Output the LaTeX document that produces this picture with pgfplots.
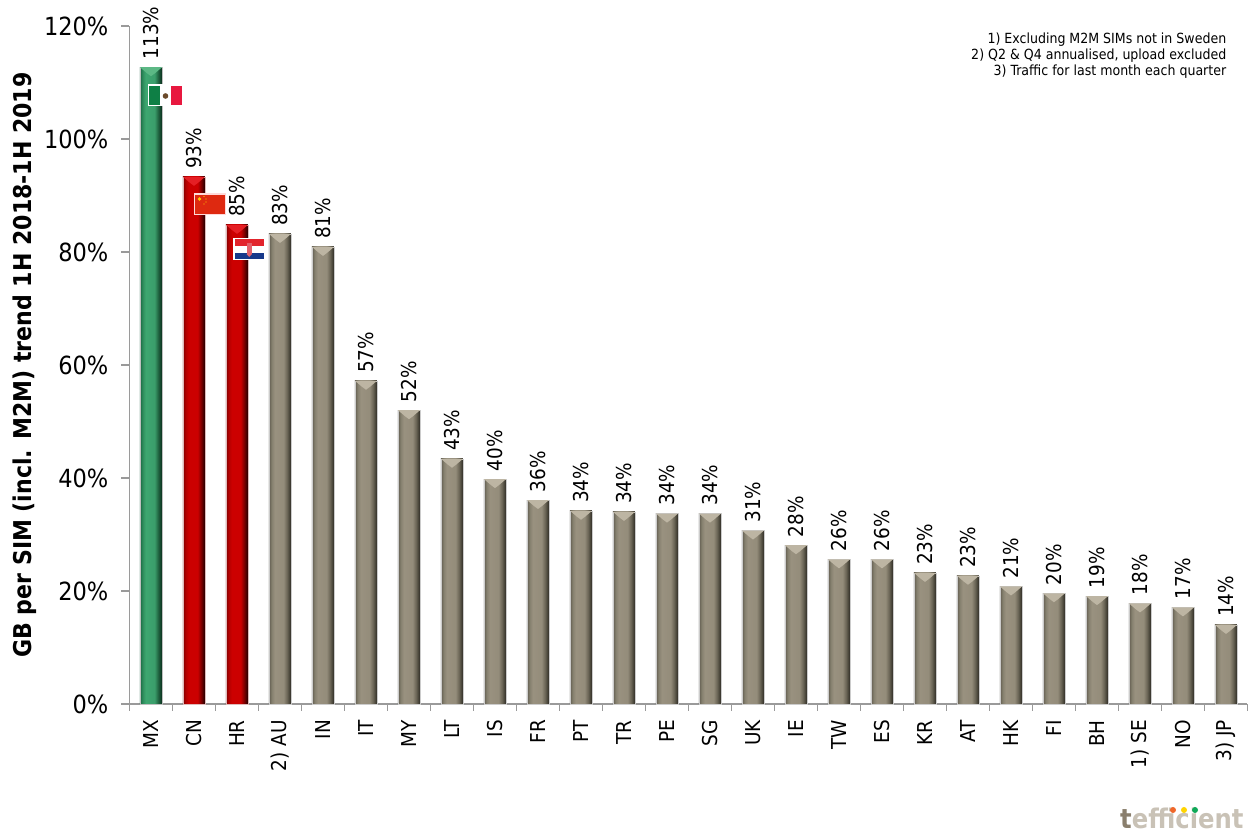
\documentclass[border=0pt]{standalone}
\usepackage{pgfplots}
\pgfplotsset{compat=1.18}
\usepackage{fontspec}
\setmainfont{DejaVu Sans Condensed}
\definecolor{axisgray}{HTML}{9A9A9A}
\definecolor{flagred}{HTML}{DE2910}
\definecolor{mxgreen}{HTML}{0E7F45}
\definecolor{mxred}{HTML}{E8183F}
\definecolor{mxbrown}{HTML}{6B4A2A}
\definecolor{cnyellow}{HTML}{FFC800}
\definecolor{hrred}{HTML}{E2242C}
\definecolor{hrblue}{HTML}{17398A}
\definecolor{hrshield}{HTML}{E2606A}
\definecolor{logolight}{HTML}{C9C2B6}
\definecolor{logodark}{HTML}{8A7F6D}
\definecolor{dotorange}{HTML}{F0672A}
\definecolor{dotyellow}{HTML}{FFD400}
\definecolor{dotgreen}{HTML}{0FA958}
% Bar bodies: dark rims, lighter middle, darkest on the right
\pgfdeclarehorizontalshading{bargray}{100bp}{rgb(0bp)=(0.38,0.36,0.31);rgb(25bp)=(0.38,0.36,0.31);rgb(31bp)=(0.52,0.50,0.43);rgb(38bp)=(0.60,0.57,0.50);rgb(58bp)=(0.58,0.55,0.48);rgb(66bp)=(0.42,0.40,0.34);rgb(75bp)=(0.18,0.17,0.14);rgb(100bp)=(0.18,0.17,0.14)}
\pgfdeclarehorizontalshading{barred}{100bp}{rgb(0bp)=(0.50,0,0);rgb(25bp)=(0.50,0,0);rgb(31bp)=(0.70,0,0);rgb(38bp)=(0.80,0,0);rgb(58bp)=(0.80,0,0);rgb(66bp)=(0.50,0,0);rgb(75bp)=(0.12,0,0);rgb(100bp)=(0.12,0,0)}
\pgfdeclarehorizontalshading{bargreen}{100bp}{rgb(0bp)=(0.10,0.40,0.26);rgb(25bp)=(0.10,0.40,0.26);rgb(31bp)=(0.18,0.55,0.36);rgb(38bp)=(0.24,0.65,0.44);rgb(58bp)=(0.23,0.62,0.42);rgb(66bp)=(0.13,0.40,0.26);rgb(75bp)=(0.04,0.18,0.11);rgb(100bp)=(0.04,0.18,0.11)}
% Bevel at the top of each bar
\pgfdeclareplotmark{bevel}{\pgfpathmoveto{\pgfqpoint{-11pt}{0pt}}\pgfpathlineto{\pgfqpoint{11pt}{0pt}}\pgfpathlineto{\pgfqpoint{4pt}{-6pt}}\pgfpathlineto{\pgfqpoint{0pt}{-9pt}}\pgfpathlineto{\pgfqpoint{-4pt}{-6pt}}\pgfpathclose\pgfusepathqfill}
\pgfplotsset{
  valbar/.style={ybar, bar width=22pt, bar shift=0pt, shade, shading=#1,
    nodes near coords={\pgfmathprintnumber[fixed,precision=0,assume math mode=true]{\pgfplotspointmeta}\%},
    every node near coord/.append style={rotate=90, anchor=west, font=\fontsize{20.5}{22}\selectfont, text=black, inner sep=0pt, outer xsep=8pt}},
  gbar/.style={valbar=bargray, draw=black!20},
}
\begin{document}
\begin{tikzpicture}[x=1pt,y=1pt]
\useasboundingbox (0,0) rectangle (1248,834);
\begin{axis}[
  at={(129.5pt,130pt)}, anchor=south west,
  scale only axis, width=1118pt, height=678pt,
  xmin=-0.5, xmax=25.5, ymin=0, ymax=120,
  axis x line=bottom, axis y line=left,
  axis line style={-, draw=axisgray, line width=1.4pt},
  clip=false,
  ytick={0,20,40,60,80,100,120},
  yticklabels={0\%,20\%,40\%,60\%,80\%,100\%,120\%},
  xtick={0,...,25},
  xticklabels={MX,CN,HR,2) AU,IN,IT,MY,LT,IS,FR,PT,TR,PE,SG,UK,IE,TW,ES,KR,AT,HK,FI,BH,1) SE,NO,3) JP},
  minor xtick={-0.5,0.5,...,25.5},
  major x tick style={draw=none},
  minor x tick style={draw=axisgray, line width=1.2pt},
  minor tick length=7pt,
  y tick style={draw=axisgray, line width=1.2pt},
  major tick length=8pt,
  tick align=outside,
  x tick label style={rotate=90, anchor=east, font=\fontsize{20.5}{22}\selectfont, inner sep=0pt, xshift=-8pt},
  y tick label style={font=\fontsize{25}{28}\selectfont, inner sep=0pt, xshift=-13pt},
  ylabel={\textbf{GB per SIM (incl. M2M) trend 1H 2018-1H 2019}},
  ylabel style={font=\fontsize{24.5}{28}\selectfont, at={(axis description cs:0,0.5)}, anchor=center, yshift=105pt},
]
\addplot[valbar=bargreen, draw=black!25] coordinates {(0,112.7)};
\addplot[valbar=barred, draw=red!35!gray!40] coordinates {(1,93.3)};
\addplot[valbar=barred, draw=red!35!gray!40] coordinates {(2,84.8)};
\addplot[gbar] coordinates {(3,83.2)};
\addplot[gbar] coordinates {(4,80.9)};
\addplot[gbar] coordinates {(5,57.2)};
\addplot[gbar] coordinates {(6,52.0)};
\addplot[gbar] coordinates {(7,43.4)};
\addplot[gbar] coordinates {(8,39.8)};
\addplot[gbar] coordinates {(9,36.1)};
\addplot[gbar] coordinates {(10,34.2)};
\addplot[gbar] coordinates {(11,34.0)};
\addplot[gbar] coordinates {(12,33.7)};
\addplot[gbar] coordinates {(13,33.7)};
\addplot[gbar] coordinates {(14,30.7)};
\addplot[gbar] coordinates {(15,28.1)};
\addplot[gbar] coordinates {(16,25.6)};
\addplot[gbar] coordinates {(17,25.6)};
\addplot[gbar] coordinates {(18,23.2)};
\addplot[gbar] coordinates {(19,22.7)};
\addplot[gbar] coordinates {(20,20.8)};
\addplot[gbar] coordinates {(21,19.6)};
\addplot[gbar] coordinates {(22,19.1)};
\addplot[gbar] coordinates {(23,17.8)};
\addplot[gbar] coordinates {(24,17.1)};
\addplot[gbar] coordinates {(25,14.0)};
\addplot[only marks, mark=bevel, mark options={fill={rgb,1:red,0.36;green,0.72;blue,0.52}, draw=none}] coordinates {(0,112.7)};
\addplot[only marks, mark=bevel, mark options={fill={rgb,1:red,0.90;green,0.12;blue,0.14}, draw=none}] coordinates {(1,93.3) (2,84.8)};
\addplot[only marks, mark=bevel, mark options={fill={rgb,1:red,0.74;green,0.71;blue,0.64}, draw=none}] coordinates {(3,83.2) (4,80.9) (5,57.2) (6,52.0) (7,43.4) (8,39.8) (9,36.1) (10,34.2) (11,34.0) (12,33.7) (13,33.7) (14,30.7) (15,28.1) (16,25.6) (17,25.6) (18,23.2) (19,22.7) (20,20.8) (21,19.6) (22,19.1) (23,17.8) (24,17.1) (25,14.0)};
\end{axis}
% Flags, footnotes and logo, placed from the top-left corner
\begin{scope}[shift={(0,834)},y=-1pt]
  % Mexico
  \fill[white] (147.5,84.5) rectangle (182.5,106.5);
  \fill[mxgreen] (149,86) rectangle (160,105);
  \fill[mxred] (171,86) rectangle (182,105);
  \fill[mxbrown] (165.5,96) circle (2.8);
  % China
  \fill[white!85!red] (193.5,193.5) rectangle (225.5,215.5);
  \fill[flagred] (195,195) rectangle (225,214);
  \fill[cnyellow] (199.5,199) circle (1.8);
  \fill[cnyellow] (204,196.5) circle (.7) (206,199) circle (.7) (206,202) circle (.7) (204,204) circle (.7);
  % Croatia
  \fill[white] (233,238.5) rectangle (264,260.5);
  \fill[hrred] (234.5,239.5) rectangle (263.5,246);
  \fill[hrblue] (234.5,253.5) rectangle (263.5,259.5);
  \fill[hrshield] (246.5,243) rectangle (252,254);
  \fill[hrshield] (246.5,254) -- (252,254) -- (249.2,257) -- cycle;
  % Footnotes
  \node[anchor=north east, align=right, inner sep=0pt, font=\fontsize{14}{16}\selectfont] at (1226.5,32.5)
    {1) Excluding M2M SIMs not in Sweden\\2) Q2 \& Q4 annualised, upload excluded\\3) Traffic for last month each quarter};
  % Logo
  \node[anchor=base west, inner sep=0pt, font=\fontsize{27}{30}\selectfont\bfseries, text=logolight] at (1120,829)
    {\textcolor{logodark}{t}efficient};
  \fill[dotorange] (1173,810) circle (3);
  \fill[dotyellow] (1184,810) circle (3);
  \fill[dotgreen] (1195,810) circle (3);
\end{scope}
\end{tikzpicture}
\end{document}
